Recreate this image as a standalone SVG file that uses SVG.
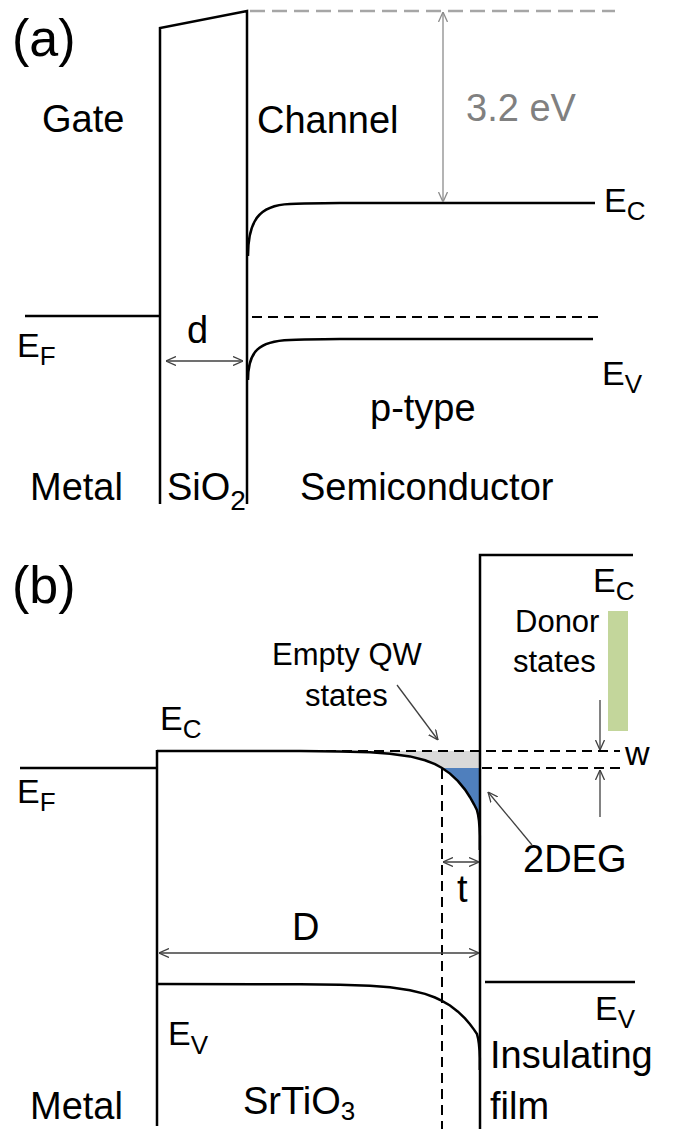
<svg xmlns="http://www.w3.org/2000/svg" width="683" height="1129" viewBox="0 0 683 1129">
<style>
text{font-family:"Liberation Sans",Arial,sans-serif;fill:#000}
.big{font-size:38px}
.lbl{font-size:52px}
.e{font-size:34px}
.sm{font-size:31px}
.ln{stroke:#000;stroke-width:2.5;fill:none}
.dash{stroke:#000;stroke-width:2;fill:none;stroke-dasharray:10 6}
.arr{stroke:#404040;stroke-width:1.3;fill:none}
.garr{stroke:#8c8c8c;stroke-width:1.3;fill:none}
</style>
<defs>
<marker id="ah" viewBox="0 0 10 10" refX="10" refY="5" markerWidth="10" markerHeight="10" markerUnits="userSpaceOnUse" orient="auto-start-reverse"><path d="M0,0.5 L10,5 L0,9.5" fill="none" stroke="#404040" stroke-width="1.3"/></marker>
<marker id="gah" viewBox="0 0 10 10" refX="10" refY="5" markerWidth="10" markerHeight="10" markerUnits="userSpaceOnUse" orient="auto-start-reverse"><path d="M0,0.5 L10,5 L0,9.5" fill="none" stroke="#8c8c8c" stroke-width="1.3"/></marker>
</defs>
<rect width="683" height="1129" fill="#fff"/>

<!-- Panel (a) -->
<g id="panel-a">
<text id="label-a" class="lbl" x="12" y="56">(a)</text>
<g id="a-gate"><line class="ln" x1="25" y1="316" x2="160" y2="316"/><text class="big" x="42" y="132">Gate</text><text class="big" x="30" y="500">Metal</text>
<text class="e" x="17" y="357">E<tspan dy="8" font-size="26">F</tspan></text></g>
<g id="a-oxide"><path class="ln" d="M160,504 L160,28 L247,11 L247,504"/>
<text class="big" x="167" y="500">SiO<tspan dy="10" font-size="28">2</tspan></text>
<text class="big" x="187" y="343">d</text></g>
<g id="a-semi">
<line x1="250" y1="11" x2="615" y2="11" stroke="#a6a6a6" stroke-width="2.5" stroke-dasharray="15 7"/>
<text class="big" x="257" y="133">Channel</text>
<text class="big" x="466" y="121" style="fill:#808080">3.2 eV</text>
<path class="ln" d="M248,256 C248,222 258,205 290,204 C310,203.5 320,203 340,203 L595,203"/>
<text class="e" x="604" y="212">E<tspan dy="8" font-size="26">C</tspan></text>
<line class="dash" x1="252" y1="317" x2="598" y2="317"/>
<path class="ln" d="M248,380 C248,352 258,341 290,340 C310,339.5 320,339 340,339 L593,339"/>
<text class="e" x="602" y="385">E<tspan dy="8" font-size="26">V</tspan></text>
<text class="big" x="370" y="421">p-type</text>
<text class="big" x="300" y="500">Semiconductor</text>
</g>
</g>

<!-- Panel (b) -->
<g id="panel-b">
<text id="label-b" class="lbl" x="12" y="603">(b)</text>
<g id="b-metal"><line class="ln" x1="20" y1="768" x2="157" y2="768"/>
<text class="e" x="17" y="803">E<tspan dy="8" font-size="26">F</tspan></text>
<text class="big" x="30" y="1119">Metal</text></g>
<g id="b-sto">
<path d="M360,751 L370,752.3 L390,753.7 L410,756.4 L425,760.3 L435,764.2 L442,768 L480,768 L480,751 Z" fill="#d9d9d9"/>
<path d="M442,768 L450,773.6 L458,781.1 L465,789.6 L470,797.2 L474,804.3 L477,810.3 Q479.5,818 480,836 L480,768 Z" fill="#4f7fbd"/>
<line class="ln" x1="157" y1="1126" x2="157" y2="750"/>
<path class="ln" d="M157,751 L300,751.1 L340,751.4 L370,752.3 L390,753.7 L410,756.4 L425,760.3 L435,764.2 L442,768 L450,773.6 L458,781.1 L465,789.6 L470,797.2 L474,804.3 L477,810.3 Q479.5,818 479.8,836 L479.8,850"/>
<path class="ln" d="M157,984 L300,984.2 L340,984.7 L370,985.8 L390,987.3 L410,990.2 L425,993.9 L435,997.5 L442,1000.8 L450,1005.5 L458,1011.7 L465,1018.4 L470,1024.2 L474,1029.6 L477,1034.1 Q479.5,1042 479.8,1058 L479.8,1070"/>
<text class="e" x="160" y="730">E<tspan dy="8" font-size="26">C</tspan></text>
<text class="e" x="168" y="1045">E<tspan dy="9" font-size="26">V</tspan></text>
<text class="big" x="243" y="1114">SrTiO<tspan dy="6" font-size="26">3</tspan></text>
<text class="sm" x="272" y="665">Empty QW</text>
<text class="sm" x="305" y="706">states</text>
<text class="big" x="292" y="940">D</text>
<text class="big" x="457" y="902">t</text>
</g>
<g id="b-film">
<path class="ln" d="M480,1129 L480,555 L633,555"/>
<line class="ln" x1="485" y1="982" x2="635" y2="982"/>
<rect x="608" y="611" width="20" height="120" fill="#c3d69b"/>
<text class="e" x="593" y="592">E<tspan dy="8" font-size="26">C</tspan></text>
<text class="sm" x="515" y="632">Donor</text>
<text class="sm" x="513" y="672">states</text>
<text class="e" x="595" y="1020">E<tspan dy="8" font-size="26">V</tspan></text>
<text class="big" x="490" y="1068">Insulating</text>
<text class="big" x="490" y="1119">film</text>
<text class="big" x="523" y="872">2DEG</text>
<text class="e" x="625" y="765">w</text>
</g>
<g id="b-levels">
<line class="dash" x1="278" y1="751" x2="620" y2="751" stroke-dasharray="9 5"/>
<line class="dash" x1="482" y1="768" x2="623" y2="768" stroke-dasharray="9 5"/>
<line class="dash" x1="442" y1="769" x2="442" y2="1129"/>
</g>
</g>

<g id="connectors">
<line class="garr" x1="443" y1="12" x2="443" y2="202" marker-start="url(#gah)" marker-end="url(#gah)"/>
<line class="arr" x1="166" y1="361" x2="243" y2="361" marker-start="url(#ah)" marker-end="url(#ah)"/>
<line class="arr" x1="397" y1="685" x2="438" y2="740" marker-end="url(#ah)"/>
<line class="arr" x1="600" y1="700" x2="600" y2="750" marker-end="url(#ah)"/>
<line class="arr" x1="600" y1="817" x2="600" y2="770" marker-end="url(#ah)"/>
<line class="arr" x1="532" y1="845" x2="488" y2="792" marker-end="url(#ah)"/>
<line class="arr" x1="443" y1="862" x2="479" y2="862" marker-start="url(#ah)" marker-end="url(#ah)"/>
<line class="arr" x1="159" y1="953" x2="479" y2="953" marker-start="url(#ah)" marker-end="url(#ah)"/>
</g>
</svg>
